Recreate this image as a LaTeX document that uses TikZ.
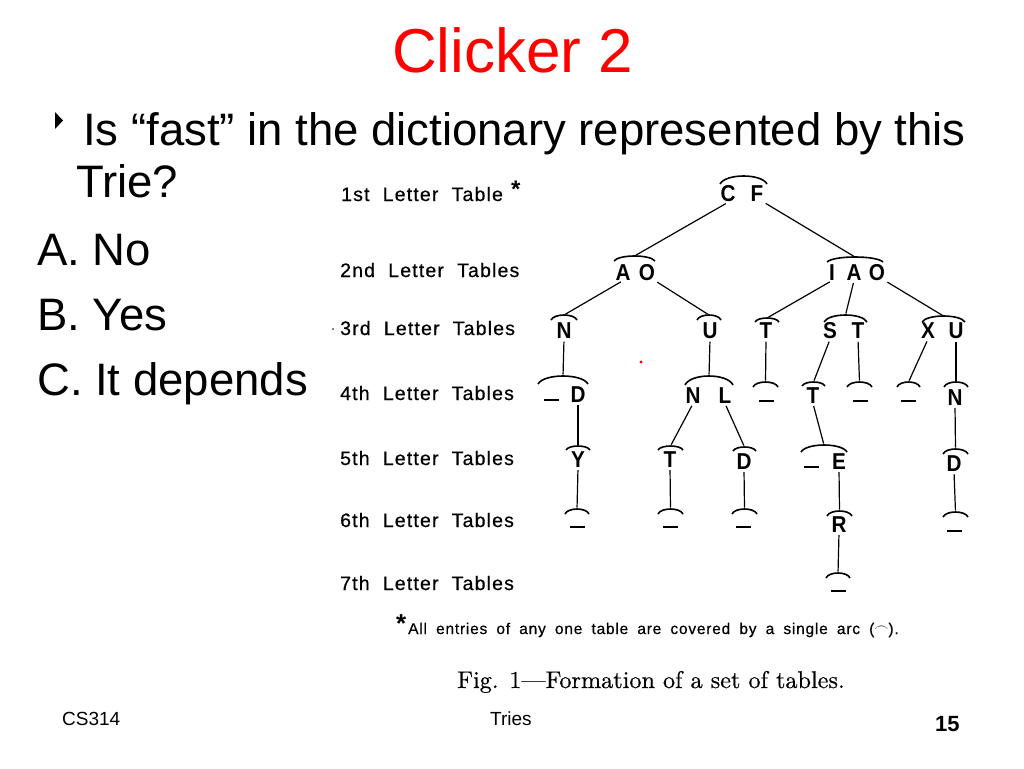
\documentclass[tikz,border=0pt]{standalone}
\usepackage{fontspec}
\newfontfamily\arial{Liberation Sans}
\newfontfamily\leroy[LetterSpace=6,WordSpace=2,FakeBold=0.6]{Liberation Sans}
\newfontfamily\leroyf[LetterSpace=5,WordSpace=1.8,FakeBold=0.5]{Liberation Sans}
\newfontfamily\trief[FakeStretch=0.9]{Liberation Sans Bold}
\newfontfamily\capf[FakeBold=0.5,Ligatures=TeX]{lmroman10-regular.otf}
\newcommand{\tabarc}[5]{%
  \draw[arcline] (#1,#3) .. controls ({#1+0.12*(#2-#1)},{#3-1.333*(#3-#4)}) and ({#2-0.12*(#2-#1)},{#3-1.333*(#3-#4)}) .. (#2,#3);
  \coordinate (#5) at ({(#1+#2)/2},#4);}
\begin{document}
\begin{tikzpicture}[x=1pt,y=-1pt,
  every node/.style={inner sep=0pt},
  txt/.style={anchor=base west},
  body/.style={txt,font=\arial\fontsize{45.5}{50}\selectfont},
  lvl/.style={txt,font=\leroy\fontsize{19.5}{22}\selectfont},
  lt/.style={font=\trief\fontsize{23}{24}\selectfont},
  blank/.style={minimum width=15pt,minimum height=2.4pt,fill=black},
  arcline/.style={line width=1.6pt},
  conn/.style={line width=1.2pt,shorten <=2.5pt,shorten >=1.5pt}]
\useasboundingbox (0,0) rectangle (1024,768);
\fill[white] (0,0) rectangle (1024,768);

% title and question
\node[txt,font=\arial\fontsize{62}{70}\selectfont,text=red] (title) at (392,72) {Clicker 2};
\fill (55,112) -- (55,129) -- (63,120.5) -- cycle;
\node[body] (q1) at (83,145) {Is “fast” in the dictionary represented by this};
\node[body] (q2) at (76,197) {Trie?};
\node[body] (ansa) at (37,265) {A. No};
\node[body] (ansb) at (37,330) {B. Yes};
\node[body] (ansc) at (37,395) {C. It depends};

% level labels
\node[lvl] (l1) at (341,201) {1st Letter Table};
\node[txt,font=\arial\bfseries\fontsize{24}{24}\selectfont] (ast1) at (511,197) {*};
\node[lvl] (l2) at (340,277) {2nd Letter Tables};
\node[lvl] (l3) at (340,335) {3rd Letter Tables};
\fill (333,329) circle (0.9);
\node[lvl] (l4) at (340,400) {4th Letter Tables};
\node[lvl] (l5) at (340,465) {5th Letter Tables};
\node[lvl] (l6) at (340,527) {6th Letter Tables};
\node[lvl] (l7) at (340,590) {7th Letter Tables};

% level 1
\node[lt] (c1) at (728,194) {C};
\node[lt] (f1) at (757,194) {F};
\tabarc{720}{767}{184}{176}{arc1}
% level 2
\node[lt] (a2) at (623,272.5) {A};
\node[lt] (o2) at (647,272.5) {O};
\tabarc{614}{655}{261}{256}{arc2a}
\node[lt] (i2) at (832,272.5) {I};
\node[lt] (a2b) at (854,272.5) {A};
\node[lt] (o2b) at (877,272.5) {O};
\tabarc{827}{883}{262}{257}{arc2b}
% level 3
\node[lt] (n3) at (564,331) {N};
\tabarc{551}{577}{320}{315}{arc3a}
\node[lt] (u3) at (710,331) {U};
\tabarc{697}{721}{320}{315}{arc3b}
\node[lt] (t3) at (766,331) {T};
\tabarc{755}{779}{322}{318}{arc3c}
\node[lt] (s3) at (830,331) {S};
\node[lt] (t3d) at (858,331) {T};
\tabarc{824}{867}{322}{315}{arc3d}
\node[lt] (x3) at (928,331) {X};
\node[lt] (u3e) at (956,331) {U};
\tabarc{922}{965}{322}{316}{arc3e}
% level 4
\node[blank] (b4a) at (551,400) {};
\node[lt] (d4) at (578,394.5) {D};
\tabarc{538}{588}{384}{376}{arc4a}
\node[lt] (n4) at (693,395.5) {N};
\node[lt] (l4b) at (725,395.5) {L};
\tabarc{685}{733}{385}{376}{arc4b}
\node[blank] (b4c) at (766,401) {};
\tabarc{753}{778}{387}{382}{arc4c}
\node[lt] (t4) at (813,395.5) {T};
\tabarc{802}{825}{386}{382}{arc4d}
\node[blank] (b4e) at (860,401) {};
\tabarc{847}{872}{387}{382}{arc4e}
\node[blank] (b4f) at (908,401) {};
\tabarc{897}{920}{387}{382}{arc4f}
\node[lt] (n4g) at (955,397.5) {N};
\tabarc{944}{968}{387}{382}{arc4g}
% level 5
\node[lt] (y5) at (578,459.5) {Y};
\tabarc{566}{590}{450}{446}{arc5a}
\node[lt] (t5) at (670,459.5) {T};
\tabarc{658}{683}{450}{446}{arc5b}
\node[lt] (d5) at (744,461.5) {D};
\tabarc{733}{756}{451}{447}{arc5c}
\node[blank] (b5d) at (811,467) {};
\node[lt] (e5) at (839,461.5) {E};
\tabarc{801}{847}{452}{445}{arc5d}
\node[lt] (d5e) at (954,463.5) {D};
\tabarc{943}{968}{454}{449}{arc5e}
% level 6
\node[blank] (b6a) at (577,527) {};
\tabarc{565}{589}{514}{509}{arc6a}
\node[blank] (b6b) at (670,527) {};
\tabarc{658}{683}{514}{509}{arc6b}
\node[blank] (b6c) at (743,527) {};
\tabarc{732}{757}{514}{509}{arc6c}
\node[lt] (r6) at (839,524.5) {R};
\tabarc{827}{852}{516}{511}{arc6d}
\node[blank] (b6e) at (954,531) {};
\tabarc{943}{968}{517}{512}{arc6e}
% level 7
\node[blank] (b7) at (838,591) {};
\tabarc{826}{850}{578}{573}{arc7}

% connectors
\draw[conn] (c1.south) -- (arc2a);
\draw[conn] (f1.south east) -- (arc2b);
\draw[conn] (a2.south) -- (arc3a);
\draw[conn] (o2.south east) -- (arc3b);
\draw[conn] (i2.south) -- (arc3c);
\draw[conn] (a2b.south) -- (arc3d);
\draw[conn] (o2b.south east) -- (arc3e);
\draw[conn] (n3.south) -- (arc4a);
\draw[conn] (u3.south) -- (arc4b);
\draw[conn] (t3.south) -- (arc4c);
\draw[conn] (s3.south) -- (arc4d);
\draw[conn] (t3d.south) -- (arc4e);
\draw[conn] (x3.south) -- (arc4f);
\draw[conn] (u3e.south) -- (arc4g);
\draw[conn] (d4.south) -- (arc5a);
\draw[conn] (n4.south) -- (arc5b);
\draw[conn] (l4b.south) -- (arc5c);
\draw[conn] (t4.south) -- (arc5d);
\draw[conn] (n4g.south) -- (arc5e);
\draw[conn] (y5.south) -- (arc6a);
\draw[conn] (t5.south) -- (arc6b);
\draw[conn] (d5.south) -- (arc6c);
\draw[conn] (e5.south) -- (arc6d);
\draw[conn] (d5e.south) -- (arc6e);
\draw[conn] (r6.south) -- (arc7);

\fill[red] (641,362) circle (1.6);

% footnote and caption
\node[txt,font=\arial\bfseries\fontsize{26}{26}\selectfont] (ast2) at (396,632) {*};
\node[txt,font=\leroyf\fontsize{15.5}{16}\selectfont] (fnote) at (408,634) {All entries of any one table are covered by a single arc (\raisebox{0.25ex}{$\frown$}).};
\node[txt,font=\capf\fontsize{24.2}{28}\selectfont] (fig) at (457,688) {Fig. 1—Formation of a set of tables.};

% footer
\node[txt,font=\arial\fontsize{19}{20}\selectfont] (foot1) at (62,725) {CS314};
\node[txt,font=\arial\fontsize{19}{20}\selectfont] (foot2) at (490,725) {Tries};
\node[txt,font=\arial\bfseries\fontsize{22}{24}\selectfont] (foot3) at (935,731) {15};
\end{tikzpicture}
\end{document}
